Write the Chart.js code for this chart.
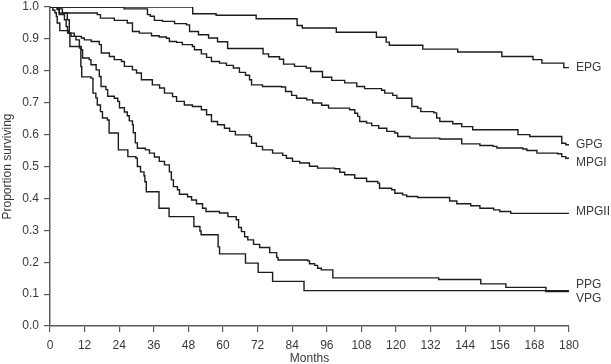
<!DOCTYPE html>
<html>
<head>
<meta charset="utf-8">
<script src="https://cdn.jsdelivr.net/npm/chart.js@4.4.0/dist/chart.umd.min.js"></script>
<style>
html, body { margin: 0; padding: 0; background: #fff; }
canvas { display: block; }
</style>
</head>
<body>
<canvas id="km" width="611" height="364"></canvas>
<script>
var seriesNames = ["EPG", "GPG", "MPGI", "MPGII", "PPG", "VPG"];
var monthTicks = [0, 12, 24, 36, 48, 60, 72, 84, 96, 108, 120, 132, 144, 156, 168, 180];
var survTicks = [0, 0.1, 0.2, 0.3, 0.4, 0.5, 0.6, 0.7, 0.8, 0.9, 1.0];
// where the group name sits at the right end of each curve
var labelLevels = [0.810, 0.567, 0.512, 0.357, 0.129, 0.087];

var epgMonths = [0, 49.5, 57.6, 71.5, 85.7, 87.5, 99.3, 113.2, 116.6, 117.7, 129.3, 141.4, 156.7, 167.5, 170.6, 178.2, 180];
var epgSurv = [1, 0.979, 0.974, 0.963, 0.942, 0.934, 0.921, 0.905, 0.890, 0.880, 0.868, 0.859, 0.845, 0.835, 0.824, 0.810, 0.810];

var gpgMonths = [0, 25.7, 33.8, 34.8, 36.2, 39.0, 43.2, 47.3, 48.4, 51.5, 55.0, 58.1, 61.6, 73.9, 75.8, 79.6, 81.0, 84.8, 88.9, 90.4, 94.5, 97.7, 102.2, 106.4, 109.1, 115.0, 116.1, 118.9, 120.3, 125.5, 127.5, 128.6, 133.1, 134.1, 135.2, 139.7, 142.8, 146.6, 162.3, 166.4, 177.5, 178.9, 180];
var gpgSurv = [1, 0.994, 0.976, 0.971, 0.958, 0.955, 0.948, 0.944, 0.923, 0.913, 0.903, 0.891, 0.870, 0.853, 0.844, 0.836, 0.821, 0.814, 0.809, 0.798, 0.780, 0.770, 0.762, 0.751, 0.744, 0.739, 0.730, 0.723, 0.714, 0.688, 0.683, 0.672, 0.668, 0.652, 0.641, 0.634, 0.625, 0.615, 0.600, 0.594, 0.573, 0.568, 0.568];

var mpg1Months = [0, 2.5, 4.3, 16.4, 17.5, 22.3, 26.8, 28.6, 31.0, 35.2, 37.9, 40.4, 41.4, 43.9, 45.9, 49.4, 50.1, 52.5, 54.3, 56.0, 58.8, 61.2, 63.6, 65.7, 67.8, 69.2, 69.9, 73.7, 80.3, 81.7, 83.8, 85.5, 89.0, 91.1, 94.2, 96.6, 103.9, 105.7, 106.7, 107.4, 109.8, 111.6, 114.0, 116.8, 119.6, 120.6, 124.8, 135.2, 142.8, 149.1, 153.6, 155.0, 164.0, 165.4, 168.9, 176.1, 177.5, 178.9, 180];
var mpg1Surv = [1, 0.994, 0.981, 0.976, 0.965, 0.958, 0.950, 0.923, 0.918, 0.910, 0.906, 0.902, 0.892, 0.889, 0.882, 0.876, 0.866, 0.853, 0.842, 0.829, 0.824, 0.817, 0.809, 0.795, 0.786, 0.772, 0.756, 0.751, 0.749, 0.735, 0.723, 0.714, 0.709, 0.699, 0.692, 0.683, 0.678, 0.667, 0.657, 0.641, 0.636, 0.628, 0.620, 0.610, 0.605, 0.594, 0.589, 0.586, 0.571, 0.566, 0.563, 0.558, 0.555, 0.550, 0.542, 0.540, 0.531, 0.526, 0.526];

var mpg2Months = [0, 3.2, 6.0, 6.7, 8.4, 10.9, 11.9, 14.3, 17.1, 17.8, 20.6, 22.3, 24.8, 25.8, 28.6, 30.0, 31.7, 35.5, 38.0, 39.7, 42.5, 43.9, 46.6, 49.4, 52.5, 54.3, 56.0, 58.1, 60.5, 62.3, 64.3, 69.2, 69.9, 71.6, 73.7, 77.2, 80.7, 82.0, 84.1, 86.6, 90.0, 92.8, 98.7, 100.5, 102.2, 105.7, 109.8, 113.7, 114.3, 118.5, 119.6, 122.3, 123.7, 127.5, 138.6, 141.1, 145.9, 149.1, 153.9, 156.0, 159.8, 180];
var mpg2Surv = [1, 0.981, 0.960, 0.918, 0.908, 0.903, 0.897, 0.892, 0.882, 0.856, 0.845, 0.835, 0.829, 0.814, 0.803, 0.793, 0.772, 0.756, 0.746, 0.730, 0.719, 0.704, 0.693, 0.688, 0.678, 0.662, 0.641, 0.631, 0.620, 0.610, 0.599, 0.594, 0.573, 0.563, 0.552, 0.542, 0.535, 0.526, 0.516, 0.511, 0.501, 0.495, 0.493, 0.482, 0.474, 0.463, 0.453, 0.448, 0.432, 0.427, 0.416, 0.411, 0.406, 0.403, 0.392, 0.383, 0.377, 0.369, 0.364, 0.359, 0.353, 0.353];

var ppgMonths = [0, 2.5, 3.2, 5.0, 5.6, 6.1, 7.3, 9.0, 10.2, 10.8, 11.3, 13.6, 14.2, 16.0, 17.1, 17.7, 19.4, 20.0, 22.3, 23.5, 24.1, 25.8, 26.8, 27.5, 28.6, 28.9, 29.6, 30.3, 33.1, 34.5, 36.2, 37.9, 39.7, 41.4, 42.1, 42.8, 44.2, 44.9, 47.7, 49.1, 50.8, 52.9, 54.1, 58.8, 61.7, 64.6, 65.4, 66.4, 67.5, 68.6, 70.6, 72.7, 76.2, 78.6, 79.1, 89.4, 90.0, 91.8, 92.8, 94.1, 98.1, 134.8, 149.4, 158.1, 172.0, 180];
var ppgSurv = [1, 0.992, 0.976, 0.960, 0.939, 0.918, 0.908, 0.897, 0.876, 0.866, 0.840, 0.835, 0.819, 0.803, 0.782, 0.751, 0.741, 0.720, 0.714, 0.704, 0.684, 0.671, 0.659, 0.643, 0.631, 0.606, 0.574, 0.557, 0.552, 0.542, 0.530, 0.516, 0.505, 0.483, 0.458, 0.437, 0.427, 0.413, 0.405, 0.395, 0.383, 0.369, 0.359, 0.354, 0.343, 0.333, 0.309, 0.296, 0.280, 0.270, 0.256, 0.246, 0.230, 0.215, 0.207, 0.204, 0.195, 0.190, 0.181, 0.176, 0.151, 0.146, 0.132, 0.121, 0.111, 0.111];

var vpgMonths = [0, 1.0, 1.7, 2.2, 2.5, 3.4, 6.5, 6.9, 10.2, 10.7, 11.0, 14.2, 14.9, 15.9, 16.4, 17.5, 18.2, 19.9, 20.5, 23.7, 27.0, 29.8, 30.3, 31.4, 32.6, 32.9, 33.4, 37.8, 41.3, 49.9, 52.0, 52.4, 58.3, 58.8, 67.8, 72.2, 77.2, 88.1, 172.0, 180];
var vpgSurv = [1, 0.990, 0.982, 0.970, 0.950, 0.926, 0.918, 0.876, 0.871, 0.813, 0.781, 0.777, 0.730, 0.715, 0.693, 0.672, 0.652, 0.646, 0.605, 0.552, 0.531, 0.526, 0.500, 0.483, 0.471, 0.452, 0.421, 0.369, 0.343, 0.312, 0.298, 0.286, 0.248, 0.226, 0.197, 0.168, 0.140, 0.111, 0.108, 0.108];

var allMonths = [epgMonths, gpgMonths, mpg1Months, mpg2Months, ppgMonths, vpgMonths];
var allSurv = [epgSurv, gpgSurv, mpg1Surv, mpg2Surv, ppgSurv, vpgSurv];

var fontFamily = '"Liberation Sans", Arial, Helvetica, sans-serif';
var textColor = '#3a3a3a';
var axisColor = '#5a5a5a';

var datasets = seriesNames.map(function (name, i) {
    return {
        label: name,
        data: allMonths[i].map(function (m, j) { return { x: m, y: allSurv[i][j] }; }),
        stepped: true,
        borderColor: '#1c1c1c',
        borderWidth: 1.4,
        pointRadius: 0,
        fill: false
    };
});

var endLabels = {
    id: 'endLabels',
    afterDatasetsDraw: function (chart) {
        var ctx = chart.ctx, area = chart.chartArea, yScale = chart.scales.y;
        ctx.save();
        ctx.font = '12px ' + fontFamily;
        ctx.fillStyle = textColor;
        ctx.textAlign = 'left';
        ctx.textBaseline = 'middle';
        seriesNames.forEach(function (name, i) {
            ctx.fillText(name, area.right + 7, yScale.getPixelForValue(labelLevels[i]));
        });
        ctx.restore();
    }
};

function axisStyle() {
    return {
        grid: { display: true, drawOnChartArea: false, drawTicks: true, tickLength: 6, color: axisColor, lineWidth: 1.2 },
        border: { display: true, color: axisColor, width: 1.5 }
    };
}

new Chart(document.getElementById('km'), {
    type: 'line',
    data: { datasets: datasets },
    plugins: [endLabels],
    options: {
        responsive: false,
        animation: false,
        layout: { padding: { top: 7, right: 42, left: 0, bottom: 0 } },
        plugins: { legend: { display: false }, tooltip: { enabled: false } },
        scales: {
            x: Object.assign({
                type: 'linear',
                min: 0,
                max: 180,
                afterBuildTicks: function (s) { s.ticks = monthTicks.map(function (v) { return { value: v }; }); },
                afterFit: function (s) { s.height = 38; s.paddingLeft = 0; s.paddingRight = 0; },
                ticks: { color: textColor, font: { size: 12, family: fontFamily }, padding: 6, maxRotation: 0, autoSkip: false },
                title: { display: true, text: 'Months', color: textColor, font: { size: 12, family: fontFamily, lineHeight: 0.9 }, padding: 0 }
            }, axisStyle()),
            y: Object.assign({
                type: 'linear',
                min: 0,
                max: 1,
                afterBuildTicks: function (s) { s.ticks = survTicks.map(function (v) { return { value: v }; }); },
                afterFit: function (s) { s.width = 50; s.paddingTop = 0; s.paddingBottom = 0; },
                ticks: { color: textColor, font: { size: 12, family: fontFamily }, padding: 5, callback: function (v) { return v.toFixed(1); } },
                title: { display: true, text: 'Proportion surviving', color: textColor, font: { size: 12, family: fontFamily }, padding: 0 }
            }, axisStyle())
        }
    }
});
</script>
</body>
</html>
